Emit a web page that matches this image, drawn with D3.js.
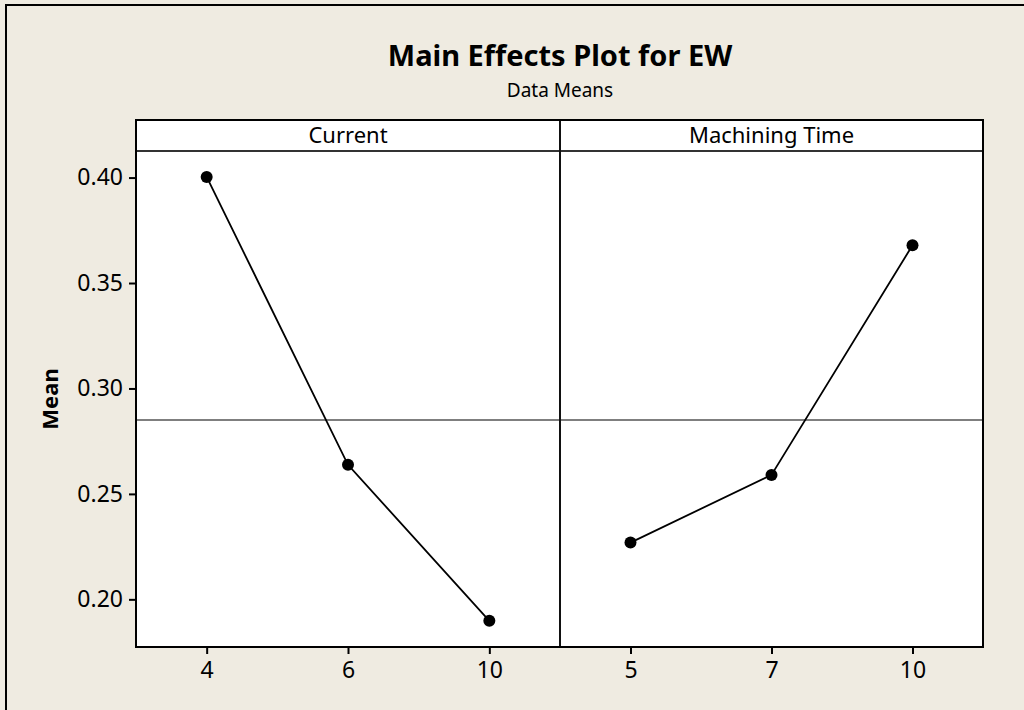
<!DOCTYPE html>
<html>
<head>
<meta charset="utf-8">
<script src="https://cdn.jsdelivr.net/npm/d3@7"></script>
<style>
    body { margin: 0; background: #efebe1; }
    svg { display: block; }
    .tickLabel, .axis text { font-family: 'Noto Sans', sans-serif; font-size: 23px; fill: #000; }
</style>
</head>
<body>
<script>
(function(){

// DATA

    const factors = ['Current', 'Machining Time'];
    const currentLevels = ['4', '6', '10'];
    const currentMeans = [0.4003, 0.2638, 0.1898];
    const timeLevels = ['5', '7', '10'];
    const timeMeans = [0.2269, 0.2590, 0.3679];
    const yTicks = [0.20, 0.25, 0.30, 0.35, 0.40];
    const grandMean = 0.2850;

// LAYOUT

    const width = 1024,
        height = 710,
        plotLeft = 136,
        plotRight = 983,
        plotTop = 120,
        stripBottom = 151,
        plotBottom = 647,
        panelSplit = 560;

    const svg = d3
        .select('body')
        .append('svg')
        .attr('width', width)
        .attr('height', height);

    // outer frame
    svg.append('rect')
        .attr('x', 6)
        .attr('y', 5)
        .attr('width', width + 20)
        .attr('height', height + 20)
        .attr('fill', '#efebe1')
        .attr('stroke', '#000')
        .attr('stroke-width', 2);

// TITLES

    svg.append('text')
        .attr('x', panelSplit)
        .attr('y', 66)
        .attr('text-anchor', 'middle')
        .style('font-family', "'Noto Sans', sans-serif")
        .style('font-weight', 'bold')
        .style('font-size', '29px')
        .text('Main Effects Plot for EW');

    svg.append('text')
        .attr('x', panelSplit)
        .attr('y', 97)
        .attr('text-anchor', 'middle')
        .style('font-family', "'Noto Sans', sans-serif")
        .style('font-size', '19px')
        .text('Data Means');

    svg.append('text')
        .attr('transform', 'translate(58,' + ((stripBottom + plotBottom) / 2) + ') rotate(-90)')
        .attr('text-anchor', 'middle')
        .style('font-family', "'Noto Sans', sans-serif")
        .style('font-weight', 'bold')
        .style('font-size', '22px')
        .text('Mean');

// SCALES

    const yScale = d3.scaleLinear()
        .domain([0.1774, 0.4126])
        .range([plotBottom, stripBottom]);

    const panels = [
        { name: factors[0], levels: currentLevels, means: currentMeans, x0: plotLeft, x1: panelSplit },
        { name: factors[1], levels: timeLevels, means: timeMeans, x0: panelSplit, x1: plotRight }
    ];

    // plot background
    svg.append('rect')
        .attr('x', plotLeft)
        .attr('y', plotTop)
        .attr('width', plotRight - plotLeft)
        .attr('height', plotBottom - plotTop)
        .attr('fill', '#fff');

// Y AXIS

    const yAxis = d3.axisLeft(yScale)
        .tickValues(yTicks)
        .tickSize(7)
        .tickPadding(6)
        .tickFormat(d3.format('.2f'));

    const yG = svg.append('g')
        .attr('class', 'axis')
        .attr('transform', 'translate(' + plotLeft + ',0)')
        .call(yAxis);
    yG.select('.domain').remove();
    yG.selectAll('line').attr('stroke', '#000').attr('stroke-width', 2);

// REFERENCE LINE

    svg.append('line')
        .attr('x1', plotLeft)
        .attr('x2', plotRight)
        .attr('y1', yScale(grandMean))
        .attr('y2', yScale(grandMean))
        .attr('stroke', '#555')
        .attr('stroke-width', 1.5);

// PANELS

    panels.forEach(function(p){
        const xScale = d3.scalePoint()
            .domain(p.levels)
            .range([p.x0, p.x1])
            .padding(0.5);

        const xAxis = d3.axisBottom(xScale)
            .tickSize(7)
            .tickPadding(8);

        const xG = svg.append('g')
            .attr('class', 'axis')
            .attr('transform', 'translate(0,' + plotBottom + ')')
            .call(xAxis);
        xG.select('.domain').remove();
        xG.selectAll('line').attr('stroke', '#000').attr('stroke-width', 2);

        const pts = p.levels.map(function(l, i){
            return [xScale(l), yScale(p.means[i])];
        });

        svg.append('path')
            .datum(pts)
            .attr('d', d3.line())
            .attr('fill', 'none')
            .attr('stroke', '#000')
            .attr('stroke-width', 1.8);

        svg.selectAll(null)
            .data(pts)
            .enter()
            .append('circle')
            .attr('cx', function(d){ return d[0]; })
            .attr('cy', function(d){ return d[1]; })
            .attr('r', 6)
            .attr('fill', '#000');

        svg.append('text')
            .attr('x', (p.x0 + p.x1) / 2)
            .attr('y', 143)
            .attr('text-anchor', 'middle')
            .attr('class', 'tickLabel')
            .style('font-size', '22px')
            .text(p.name);
    });

// FRAME

    svg.append('line')
        .attr('x1', plotLeft)
        .attr('x2', plotRight)
        .attr('y1', stripBottom)
        .attr('y2', stripBottom)
        .attr('stroke', '#333')
        .attr('stroke-width', 2);

    svg.append('line')
        .attr('x1', panelSplit)
        .attr('x2', panelSplit)
        .attr('y1', plotTop)
        .attr('y2', plotBottom)
        .attr('stroke', '#111')
        .attr('stroke-width', 2);

    svg.append('rect')
        .attr('x', plotLeft)
        .attr('y', plotTop)
        .attr('width', plotRight - plotLeft)
        .attr('height', plotBottom - plotTop)
        .attr('fill', 'none')
        .attr('stroke', '#000')
        .attr('stroke-width', 2);

})();
</script>
</body>
</html>
